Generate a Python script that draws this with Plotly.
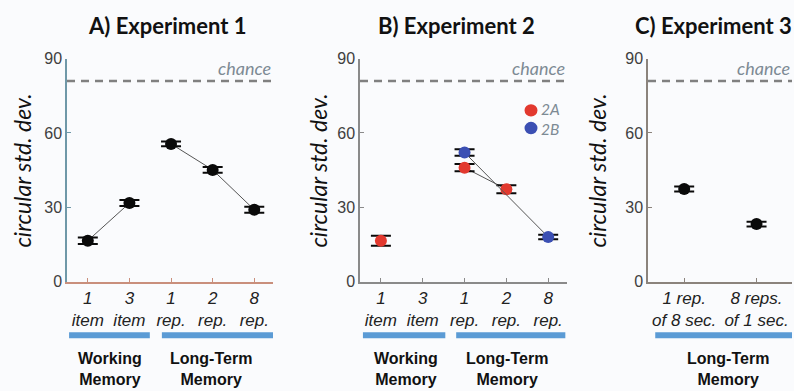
import plotly.graph_objects as go

# ---------------- data ----------------
chance_level = 81

a_wm_x = [0, 1]
a_wm_y = [16.5, 31.7]
a_wm_err = [1.3, 1.2]
a_ltm_x = [2, 3, 4]
a_ltm_y = [55.6, 45.1, 29.0]
a_ltm_err = [1.0, 1.2, 1.2]

b_2a_wm_x = [0]
b_2a_wm_y = [16.5]
b_2a_wm_err = [2.0]
b_2a_ltm_x = [2, 3]
b_2a_ltm_y = [46.0, 37.3]
b_2a_ltm_err = [1.5, 1.6]
b_2b_x = [2, 4]
b_2b_y = [52.1, 18.0]
b_2b_err = [1.3, 0.9]

c_x = [0, 1]
c_y = [37.4, 23.2]
c_err = [1.0, 1.0]

ab_ticklabels = ["1<br>item", "3<br>item", "1<br>rep.", "2<br>rep.", "8<br>rep."]
c_ticklabels = ["1 rep.<br>of 8 sec.", "8 reps.<br>of 1 sec."]
y_ticks = [0, 30, 60, 90]

titles = ["A) Experiment 1", "B) Experiment 2", "C) Experiment 3"]
y_title = "circular std. dev."
legend_names = ["2A", "2B"]

# ---------------- style ----------------
BG = "#fafbfd"
BLACK = "#0a0a0a"
RED = "#e2392f"
BLUE = "#3b4fb3"
BAR = "#5b9bd5"
LINEC = "#555555"
TITLE_FONT = "Lato"
TEXT_FONT = "Liberation Sans, Arial"
GRAYTXT = "#7d8a94"

fig = go.Figure()


def add_series(x, y, err, color, xa, ya, line=True):
    if line:
        fig.add_trace(go.Scatter(x=x, y=y, mode="lines", xaxis=xa, yaxis=ya,
                                 line=dict(color=LINEC, width=1), showlegend=False,
                                 hoverinfo="skip"))
    fig.add_trace(go.Scatter(x=x, y=y, mode="markers", xaxis=xa, yaxis=ya,
                             marker=dict(color=color, size=12, line=dict(width=0)),
                             error_y=dict(type="data", array=err, color=BLACK,
                                          thickness=2, width=10),
                             showlegend=False))


# panel A
add_series(a_wm_x, a_wm_y, a_wm_err, BLACK, "x", "y")
add_series(a_ltm_x, a_ltm_y, a_ltm_err, BLACK, "x", "y")
# panel B
add_series(b_2a_wm_x, b_2a_wm_y, b_2a_wm_err, RED, "x2", "y2", line=False)
add_series(b_2a_ltm_x, b_2a_ltm_y, b_2a_ltm_err, RED, "x2", "y2")
add_series(b_2b_x, b_2b_y, b_2b_err, BLUE, "x2", "y2")
# panel C
add_series(c_x, c_y, c_err, BLACK, "x3", "y3", line=False)

# chance lines
ranges = {"x": [-0.5, 4.45], "x2": [-0.5, 4.45], "x3": [-0.5, 1.49]}
for xa, ya in [("x", "y"), ("x2", "y2"), ("x3", "y3")]:
    fig.add_trace(go.Scatter(x=ranges[xa], y=[chance_level, chance_level], mode="lines",
                             xaxis=xa, yaxis=ya, showlegend=False, hoverinfo="skip",
                             line=dict(color="#808080", width=2.5, dash="8px,6px")))
    fig.add_annotation(x=ranges[xa][1], y=chance_level, xref=xa, yref=ya,
                       text="<i>chance</i>", showarrow=False, xanchor="right",
                       yanchor="bottom", yshift=0,
                       font=dict(family=TITLE_FONT, size=18, color=GRAYTXT))

# legend for experiment 2 (2A / 2B): key dots + one two-line text
LEG_X, LEG_Y, LEG_DY, LEG_R = 531, 107, 18.5, 6.5
for k, col in enumerate([RED, BLUE]):
    cy = LEG_Y + LEG_DY * k
    fig.add_shape(type="circle", xref="paper", yref="paper",
                  x0=(LEG_X - LEG_R) / 794, x1=(LEG_X + LEG_R) / 794,
                  y0=(391 - cy - LEG_R) / 391, y1=(391 - cy + LEG_R) / 391,
                  fillcolor=col, line=dict(width=0))
fig.add_annotation(x=(LEG_X + 8) / 794, y=(391 - LEG_Y - LEG_DY / 2) / 391,
                   xref="paper", yref="paper",
                   text="<br>".join("<i>%s</i>" % n for n in legend_names),
                   showarrow=False, xanchor="left", yanchor="middle", align="left",
                   font=dict(family=TITLE_FONT, size=15.5, color=GRAYTXT))

Y0 = (391 - 286) / 391
Y1 = (391 - 53) / 391
axis_common = dict(showgrid=False, zeroline=False, showline=True, linewidth=1.5,
                   ticks="inside", ticklen=4, mirror=False)

xcolors = ["#c98f7c", "#8a8a8a", "#8b837c"]
ycolors = ["#6f98a8", "#8a8a8a", "#8b837c"]
xdomains = [[67 / 794, 273 / 794], [360 / 794, 567 / 794], [648 / 794, 792 / 794]]

for i, (xa, ya) in enumerate([("xaxis", "yaxis"), ("xaxis2", "yaxis2"), ("xaxis3", "yaxis3")]):
    labels = c_ticklabels if i == 2 else ab_ticklabels
    anchor_y = "y" if i == 0 else "y%d" % (i + 1)
    anchor_x = "x" if i == 0 else "x%d" % (i + 1)
    fig.layout[xa] = dict(axis_common, domain=xdomains[i], anchor=anchor_y,
                          range=ranges[anchor_x], linecolor=xcolors[i], tickcolor=xcolors[i],
                          tickvals=list(range(len(labels))),
                          ticktext=["<i>%s</i>" % t.replace("<br>", "</i><br><i>") for t in labels],
                          tickfont=dict(family=TEXT_FONT, size=17, color="#222222"))
    fig.layout[ya] = dict(axis_common, domain=[Y0, Y1], anchor=anchor_x, range=[0, 90],
                          linecolor=ycolors[i], tickcolor=ycolors[i], tickvals=y_ticks,
                          tickfont=dict(family=TEXT_FONT, size=16, color="#404040"))

# titles
title_x = [167, 456, 713]
for t, px in zip(titles, title_x):
    fig.add_annotation(x=px / 794, y=(391 - 18) / 391, xref="paper", yref="paper",
                       text="<b>%s</b>" % t, showarrow=False, xanchor="center",
                       yanchor="middle", font=dict(family=TITLE_FONT, size=22, color="#111111"))

# y titles
ytitle_x = [22, 318, 597]
for px in ytitle_x:
    fig.add_annotation(x=px / 794, y=(391 - 170) / 391, xref="paper", yref="paper",
                       text="<i>%s</i>" % y_title, textangle=-90, showarrow=False,
                       xanchor="center", yanchor="middle",
                       font=dict(family=TITLE_FONT, size=23, color="#111111"))

# group bars and labels
bar_y = (391 - 342) / 391
groups = [
    ("x", -0.45, 1.49, 0.53, "Working<br>Memory"),
    ("x", 1.78, 4.45, 2.95, "Long-Term<br>Memory"),
    ("x2", -0.43, 1.54, 0.6, "Working<br>Memory"),
    ("x2", 1.80, 4.41, 3.02, "Long-Term<br>Memory"),
    ("x3", -0.40, 1.52, 0.6, "Long-Term<br>Memory"),
]
for xa, g0, g1, gc, label in groups:
    fig.add_shape(type="line", xref=xa, yref="paper", x0=g0, x1=g1, y0=bar_y, y1=bar_y,
                  line=dict(color=BAR, width=6))
    fig.add_annotation(x=gc, y=(391 - 355) / 391, xref=xa, yref="paper",
                       text="<b>%s</b>" % label, showarrow=False, xanchor="center",
                       yanchor="top", font=dict(family=TEXT_FONT, size=16, color="#111111"))

fig.update_layout(
    width=794, height=391,
    margin=dict(l=0, r=0, t=0, b=0),
    paper_bgcolor=BG, plot_bgcolor=BG,
    showlegend=False,
)

fig.write_html("out.html")
